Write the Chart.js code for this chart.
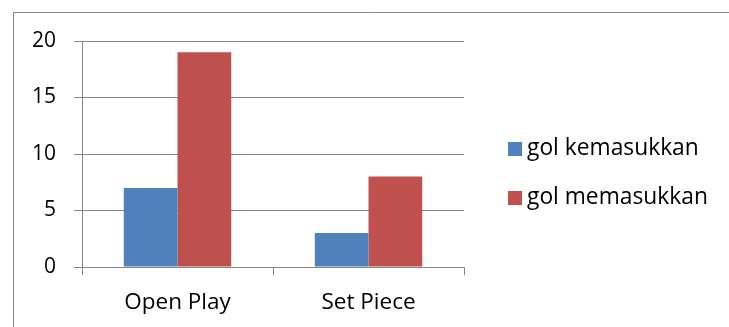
<!DOCTYPE html>
<html>
<head>
<meta charset="utf-8">
<script src="https://cdn.jsdelivr.net/npm/chart.js@4/dist/chart.umd.min.js"></script>
<style>
  html, body { margin: 0; padding: 0; background: #ffffff; }
  #wrap { width: 729px; height: 327px; position: relative; }
</style>
</head>
<body>
<div id="wrap"><canvas id="c" width="729" height="327"></canvas></div>
<script>
// Goal sources
const categories = ['Open Play', 'Set Piece'];
const golKemasukkan = [7, 3];
const golMemasukkan = [19, 8];
const seriesNames = ['gol kemasukkan', 'gol memasukkan'];
const yTicks = [0, 5, 10, 15, 20];

const FONT = 'Open Sans';
const AXIS_GREY = '#868686';

// Outer frame (left and top edges of the chart box)
const framePlugin = {
  id: 'frame',
  beforeDraw(chart) {
    const ctx = chart.ctx;
    ctx.save();
    ctx.strokeStyle = AXIS_GREY;
    ctx.lineWidth = 1;
    ctx.beginPath();
    ctx.moveTo(13.5, chart.height);
    ctx.lineTo(13.5, 12.5);
    ctx.lineTo(chart.width, 12.5);
    ctx.stroke();
    ctx.restore();
  }
};

// Legend drawn at the right, one row per series
const sideLegend = {
  id: 'sideLegend',
  afterDraw(chart) {
    const ctx = chart.ctx;
    ctx.save();
    ctx.font = '22.8px "' + FONT + '"';
    ctx.textBaseline = 'middle';
    chart.data.datasets.forEach((ds, i) => {
      const y = 149 + i * 49;
      ctx.fillStyle = ds.backgroundColor;
      ctx.fillRect(508, y - 7, 14, 14);
      ctx.fillStyle = '#000000';
      ctx.fillText(ds.label, 527, y);
    });
    ctx.restore();
  }
};

new Chart(document.getElementById('c'), {
  type: 'bar',
  data: {
    labels: categories,
    datasets: [
      { label: seriesNames[0], data: golKemasukkan, backgroundColor: '#4F81BD' },
      { label: seriesNames[1], data: golMemasukkan, backgroundColor: '#C0504D' }
    ]
  },
  options: {
    responsive: false,
    animation: false,
    devicePixelRatio: 1,
    layout: { padding: { left: 0, right: 265, top: 41, bottom: 0 } },
    datasets: { bar: { categoryPercentage: 0.5625, barPercentage: 1.0 } },
    plugins: { legend: { display: false }, tooltip: { enabled: false } },
    scales: {
      x: {
        grid: { drawOnChartArea: false, drawTicks: true, tickLength: 8, color: AXIS_GREY, offset: true },
        border: { color: AXIS_GREY, width: 1 },
        ticks: { color: '#000000', font: { family: FONT, size: 22.5 }, padding: 14 },
        afterFit(scale) { scale.height = 60; }
      },
      y: {
        min: 0, max: 20,
        afterBuildTicks(scale) { scale.ticks = yTicks.map(v => ({ value: v })); },
        grid: { color: AXIS_GREY, tickLength: 8, drawTicks: true },
        border: { color: AXIS_GREY, width: 1 },
        ticks: { color: '#000000', font: { family: FONT, size: 21 }, padding: 18 },
        afterFit(scale) { scale.width = 82; }
      }
    }
  },
  plugins: [framePlugin, sideLegend]
});
</script>
</body>
</html>
